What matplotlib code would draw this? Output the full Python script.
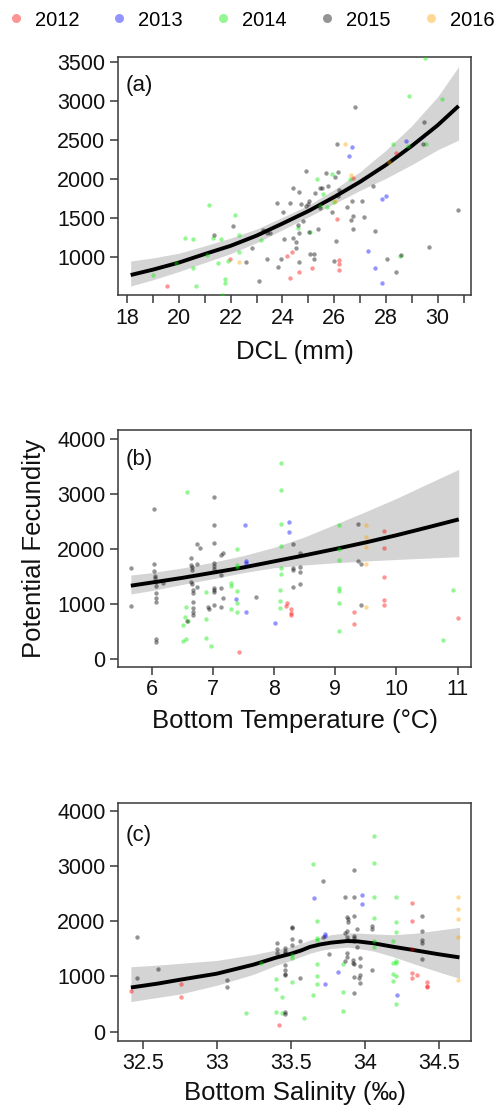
import matplotlib
matplotlib.use('Agg')
import matplotlib.pyplot as plt
from matplotlib.lines import Line2D

plt.rcParams['font.family'] = ['Liberation Sans', 'DejaVu Sans']

# ---------------- categories ----------------
years = ['2012', '2013', '2014', '2015', '2016']
year_colors = ['#ff0000', '#0000ff', '#00ee00', '#000000', '#ffa500']

# ---------------- panel (a): DCL vs fecundity ----------------
a_x_2012 = [19.55, 21.97, 24.19, 24.36, 24.28, 24.63, 25.14, 26.10, 26.20, 26.20, 26.20, 26.74, 28.39]
a_y_2012 = [624, 970, 1013, 1064, 731, 804, 851, 1483, 957, 906, 829, 2012, 2324]
a_x_2013 = [26.70, 26.56, 27.99, 27.84, 27.31, 27.58, 27.84, 28.79]
a_y_2013 = [2409, 2285, 1777, 1734, 1077, 855, 658, 2482]
a_x_2014 = [19.0, 19.9, 20.23, 20.53, 20.53, 20.64, 21.17, 21.09, 21.33, 21.52, 21.61, 21.79, 21.79,
            21.88, 22.18, 22.31, 22.31, 21.67, 23.18, 24.60, 25.07, 25.33, 25.45, 25.56, 25.74, 25.92,
            26.0, 26.6, 28.26, 28.56, 28.84, 28.91, 29.54, 29.52, 30.16]
a_y_2014 = [765, 915, 1243, 1230, 859, 624, 1658, 1017, 1243, 923, 1226, 718, 667,
            944, 1538, 1273, 1055, 509, 1213, 1371, 1316, 2000, 1649, 1798, 1640, 2055,
            1696, 2000, 2443, 1013, 2418, 3058, 2443, 3541, 3028]
a_x_2015 = [21.35, 22.10, 22.58, 22.84, 23.11, 23.26, 23.39, 23.52, 23.39, 23.78, 23.82, 23.94, 24.02,
            24.05, 24.31, 24.41, 24.40, 24.53, 24.51, 24.59, 24.65, 24.65, 24.65, 24.72, 24.81, 24.92,
            24.92, 24.99, 25.03, 25.04, 25.07, 25.25, 25.23, 25.21, 25.38, 25.44, 25.45, 25.53, 25.68,
            25.75, 25.92, 26.00, 26.03, 26.07, 26.10, 26.15, 26.17, 26.13, 26.48, 26.67, 26.64, 26.74,
            26.74, 26.82, 27.07, 27.16, 27.49, 27.58, 28.03, 28.38, 28.57, 29.42, 29.47, 29.68, 30.78]
a_y_2015 = [1278, 1397, 927, 1107, 693, 1342, 1307, 1307, 970, 1683, 863, 974, 1572,
            1226, 1683, 1884, 1239, 1188, 1115, 1410, 1833, 1307, 927, 1675, 1461, 2102,
            1653, 1675, 1713, 1320, 1030, 1820, 1030, 970, 1359, 1619, 1875, 1884, 2076,
            1909, 1576, 949, 2025, 1201, 2439, 2089, 1854, 1777, 1640, 1713, 1470, 1521,
            1350, 2922, 1717, 1512, 1909, 1329, 974, 799, 1021, 2443, 2725, 1124, 1598]
a_x_2016 = [22.31, 26.42, 26.64, 28.11, 26.05]
a_y_2016 = [936, 2439, 2042, 2208, 1713]

a_fit_x = [18.13, 19, 20, 21, 22, 23, 24, 25, 26, 27, 28, 29, 30, 30.81]
a_fit_y = [765, 835, 925, 1035, 1140, 1270, 1425, 1585, 1765, 1960, 2176, 2420, 2685, 2932]
a_fit_hi = [945, 985, 1045, 1140, 1240, 1355, 1505, 1660, 1860, 2090, 2365, 2680, 3050, 3436]
a_fit_lo = [624, 705, 810, 925, 1040, 1180, 1345, 1510, 1680, 1850, 2005, 2180, 2370, 2496]

a_xticks = list(range(18, 32))
a_xticklabels = ['18', '', '20', '', '22', '', '24', '', '26', '', '28', '', '30', '']
a_yticks = [1000, 1500, 2000, 2500, 3000, 3500]

# ---------------- panel (b): temperature ----------------
b_x_2012 = [7.42, 8.22, 8.19, 8.27, 8.28, 8.28, 9.31, 9.31, 9.79, 9.79, 9.79, 9.79, 9.79, 11.0]
b_y_2012 = [121, 1024, 964, 915, 842, 800, 861, 630, 2327, 2018, 1497, 1073, 976, 739]
b_x_2013 = [7.53, 7.54, 7.54, 7.38, 7.54, 8.24, 8.24, 8.01]
b_y_2013 = [2436, 1782, 1739, 1085, 861, 2485, 2309, 661]
b_x_2014 = [6.58, 6.56, 6.55, 6.51, 6.51, 6.56, 6.59, 6.89, 6.89, 6.89, 6.97, 7.40, 7.40, 7.40,
            7.40, 7.40, 7.40, 7.30, 7.30, 7.30, 8.11, 8.11, 8.11, 8.11, 8.11, 8.11, 8.10, 8.10,
            8.10, 9.06, 9.06, 9.06, 9.06, 9.06, 9.06, 9.06, 10.77, 10.93]
b_y_2014 = [3042, 939, 770, 624, 327, 358, 691, 1218, 721, 388, 242, 2006, 1709, 1679,
            1230, 1024, 861, 1376, 1327, 915, 3563, 3072, 2454, 2061, 1648, 1545, 1254, 1061,
            927, 2442, 2006, 1806, 1291, 1236, 1018, 509, 345, 1254]
b_x_2015 = [5.66, 5.66, 6.04, 6.04, 6.04, 6.06, 6.06, 6.07, 6.07, 6.07, 6.07, 6.07, 6.07, 6.07,
            6.19, 6.65, 6.66, 6.67, 6.67, 6.67, 6.67, 6.67, 6.67, 6.65, 6.65, 6.66, 6.66, 6.74,
            6.79, 6.74, 6.74, 6.57, 6.92, 6.93, 7.02, 7.02, 7.02, 7.02, 7.02, 7.02, 7.02, 7.02,
            7.02, 7.02, 7.14, 7.16, 7.14, 7.14, 7.16, 7.14, 7.71, 8.31, 8.31, 8.31, 8.31, 8.43,
            8.43, 8.43, 8.43, 9.38, 9.38, 9.43, 9.43]
b_y_2015 = [1654, 970, 2733, 1721, 1606, 1509, 1467, 1406, 1333, 1194, 1103, 1030, 358, 315,
            1388, 1406, 1364, 1254, 1194, 1036, 921, 861, 794, 1842, 1709, 1667, 1618, 2085,
            2012, 1727, 1315, 691, 951, 903, 2939, 2442, 2115, 1751, 1691, 1630, 1297, 1254,
            1224, 982, 1891, 1921, 1527, 1285, 1103, 951, 1133, 2091, 1648, 1618, 1315, 1921,
            1679, 1582, 1364, 2448, 1788, 1727, 982]
b_x_2016 = [9.5, 9.5, 9.5, 9.5, 9.5]
b_y_2016 = [2442, 2218, 2042, 1721, 939]

b_fit_x = [5.66, 6, 6.5, 7, 7.5, 8, 8.5, 9, 9.5, 10, 10.5, 11.02]
b_fit_y = [1333, 1390, 1475, 1570, 1665, 1775, 1885, 2000, 2120, 2250, 2390, 2539]
b_fit_hi = [1527, 1570, 1655, 1760, 1880, 2030, 2220, 2450, 2680, 2920, 3180, 3448]
b_fit_lo = [1182, 1245, 1355, 1460, 1570, 1660, 1710, 1750, 1782, 1810, 1835, 1860]

b_xticks = [6, 7, 8, 9, 10, 11]
b_xticklabels = ['6', '7', '8', '9', '10', '11']
b_yticks = [0, 1000, 2000, 3000, 4000]

# ---------------- panel (c): salinity ----------------
c_x_2012 = [32.42, 32.76, 32.76, 33.42, 34.32, 34.32, 34.32, 34.32, 34.32, 34.35, 34.42, 34.42, 34.42]
c_y_2012 = [742, 857, 633, 121, 2323, 2009, 1490, 1068, 965, 1020, 905, 833, 802]
c_x_2013 = [33.66, 33.73, 33.73, 33.73, 33.82, 33.98, 33.98, 34.22]
c_y_2013 = [2425, 1768, 1731, 857, 1074, 2474, 2305, 658]
c_x_2014 = [33.20, 33.30, 33.40, 33.40, 33.40, 33.44, 33.44, 33.51, 33.51, 33.51, 33.59, 33.65, 33.65,
            33.68, 33.68, 33.68, 33.68, 33.68, 33.68, 33.85, 33.85, 33.85, 34.06, 34.06, 34.06, 34.06,
            34.06, 34.06, 34.21, 34.21, 34.21, 34.19, 34.21, 34.21, 34.19, 34.19, 34.21, 34.19, 34.21]
c_y_2014 = [344, 1237, 947, 766, 362, 621, 332, 1382, 1333, 905, 241, 3029, 664,
            1997, 1689, 1659, 1225, 1014, 857, 1219, 724, 380, 3547, 3059, 2431, 2051,
            1641, 1538, 2431, 1991, 1798, 1641, 1279, 1237, 1237, 1044, 1014, 923, 501]
c_x_2015 = [32.46, 32.46, 32.60, 33.07, 33.07, 33.41, 33.41, 33.41, 33.46, 33.46, 33.46, 33.46, 33.46,
            33.46, 33.46, 33.46, 33.46, 33.51, 33.51, 33.51, 33.51, 33.56, 33.56, 33.72, 33.72, 33.76,
            33.87, 33.88, 33.89, 33.89, 33.88, 33.87, 33.88, 33.89, 33.88, 33.88, 33.87, 33.93, 33.93,
            33.93, 33.93, 33.93, 33.93, 33.92, 33.93, 33.92, 33.93, 33.93, 33.95, 33.95, 33.96, 33.97,
            33.97, 33.97, 33.97, 34.05, 34.05, 34.05, 34.39, 34.39, 34.39, 34.39, 34.39]
c_y_2015 = [1713, 977, 1128, 935, 802, 1599, 1490, 1418, 1508, 1466, 1418, 1207, 1116,
            1038, 1026, 362, 320, 1900, 1870, 1671, 1569, 1647, 965, 2721, 1719, 1400,
            2431, 2081, 2033, 1991, 1828, 1780, 1719, 1659, 1418, 1345, 1285, 2926, 2431,
            2093, 1731, 1689, 1641, 1249, 1219, 1297, 983, 694, 1852, 1526, 965, 1188,
            1026, 875, 1327, 1912, 1852, 1116, 2093, 1822, 1659, 1611, 1309]
c_x_2016 = [34.63, 34.63, 34.63, 34.63, 34.63]
c_y_2016 = [2431, 2214, 2033, 1707, 935]

c_fit_x = [32.42, 32.6, 32.75, 33.0, 33.25, 33.4, 33.5, 33.57, 33.63, 33.7, 33.77, 33.88,
           33.95, 34.06, 34.19, 34.33, 34.49, 34.64]
c_fit_y = [800, 870, 940, 1050, 1215, 1340, 1410, 1470, 1535, 1580, 1611, 1641,
           1635, 1600, 1538, 1478, 1406, 1345]
c_fit_hi = [1176, 1205, 1237, 1290, 1395, 1480, 1540, 1600, 1660, 1710, 1755, 1790,
            1785, 1770, 1755, 1780, 1835, 1888]
c_fit_lo = [545, 620, 680, 840, 1040, 1200, 1290, 1360, 1420, 1470, 1505, 1530,
            1510, 1460, 1360, 1230, 1090, 965]

c_xticks = [32.5, 33, 33.5, 34, 34.5]
c_xticklabels = ['32.5', '33', '33.5', '34', '34.5']
c_yticks = [0, 1000, 2000, 3000, 4000]

# ---------------- figure ----------------
W, H = 502, 1110
fig = plt.figure(figsize=(W / 100, H / 100), dpi=100)

def frac_axes(left, top, right, bottom):
    return fig.add_axes([left / W, 1 - bottom / H, (right - left) / W, (bottom - top) / H])

ax_a = frac_axes(118, 56.7, 471, 295)
ax_b = frac_axes(118, 430, 471, 666.7)
ax_c = frac_axes(118, 802.7, 471, 1040.7)

SPINE = '#383838'
TICKFS = 15.5
LABELFS = 18.5
PT_ALPHA = 0.42
PT_SIZE = 10

def draw_panel(ax, xs, ys, fit_x, fit_y, fit_lo, fit_hi, xlim, ylim,
               xticks, xticklabels, yticks, tag, tag_y, xlabel, xlabel_y):
    ax.fill_between(fit_x, fit_lo, fit_hi, color='#d4d4d4', lw=0, zorder=1)
    ax.plot(fit_x, fit_y, color='black', lw=2.8, solid_capstyle='butt',
            solid_joinstyle='round', zorder=2)
    for (x, y), c in zip(zip(xs, ys), year_colors):
        ax.scatter(x, y, s=PT_SIZE, color=c, alpha=PT_ALPHA, linewidths=0, zorder=3)
    ax.set_xlim(*xlim)
    ax.set_ylim(*ylim)
    ax.set_xticks(xticks)
    ax.set_xticklabels(xticklabels)
    ax.set_yticks(yticks)
    ax.set_yticklabels([str(v) for v in yticks])
    for sp in ax.spines.values():
        sp.set_color(SPINE)
        sp.set_linewidth(1.1)
    ax.tick_params(axis='both', direction='out', length=6, width=1.1, color=SPINE,
                   labelsize=TICKFS, labelcolor='#111111', pad=3)
    ax.text(0.022, tag_y, tag, transform=ax.transAxes, ha='left', va='top',
            fontsize=16, color='#111111')
    ax.set_xlabel(xlabel, fontsize=LABELFS, color='#111111')
    ax.xaxis.set_label_coords(0.5, xlabel_y)

draw_panel(ax_a,
           [a_x_2012, a_x_2013, a_x_2014, a_x_2015, a_x_2016],
           [a_y_2012, a_y_2013, a_y_2014, a_y_2015, a_y_2016],
           a_fit_x, a_fit_y, a_fit_lo, a_fit_hi,
           (17.64, 31.29), (509, 3564), a_xticks, a_xticklabels, a_yticks,
           '(a)', 0.925, 'DCL (mm)', -0.19)
draw_panel(ax_b,
           [b_x_2012, b_x_2013, b_x_2014, b_x_2015, b_x_2016],
           [b_y_2012, b_y_2013, b_y_2014, b_y_2015, b_y_2016],
           b_fit_x, b_fit_y, b_fit_lo, b_fit_hi,
           (5.45, 11.22), (-140, 4164), b_xticks, b_xticklabels, b_yticks,
           '(b)', 0.918, 'Bottom Temperature (\u00b0C)', -0.18)
draw_panel(ax_c,
           [c_x_2012, c_x_2013, c_x_2014, c_x_2015, c_x_2016],
           [c_y_2012, c_y_2013, c_y_2014, c_y_2015, c_y_2016],
           c_fit_x, c_fit_y, c_fit_lo, c_fit_hi,
           (32.333, 34.718), (-163, 4145), c_xticks, c_xticklabels, c_yticks,
           '(c)', 0.908, 'Bottom Salinity (\u2030)', -0.17)

ax_b.set_ylabel('Potential Fecundity', fontsize=LABELFS, color='#111111', va='center')
ax_b.yaxis.set_label_coords((34 - 118) / 353, 0.5)

handles = [Line2D([], [], marker='o', ls='', color=c, alpha=PT_ALPHA, markersize=6.5,
                  markeredgewidth=0) for c in year_colors]
fig.legend(handles, years, loc='center left', bbox_to_anchor=(5.5 / W, 1 - 20 / H),
           ncol=5, frameon=False, fontsize=14.5, handlelength=1.0, handletextpad=0.45,
           columnspacing=1.49, borderpad=0, borderaxespad=0)

fig.savefig('out.png', dpi=100)
